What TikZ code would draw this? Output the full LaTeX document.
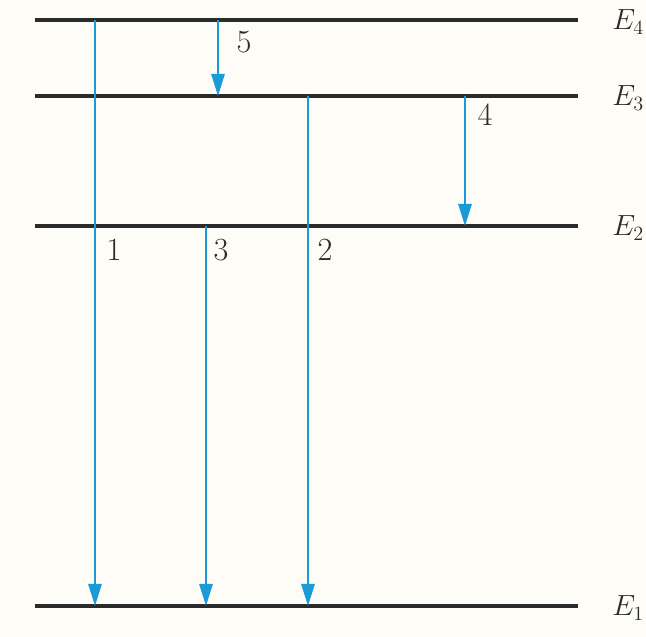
\documentclass[tikz,border=0pt]{standalone}
\usepackage{tikz}
\usetikzlibrary{positioning,arrows.meta}
\definecolor{trblue}{HTML}{1A9AD6}
\definecolor{paper}{HTML}{FDFCF7}
\definecolor{ink}{HTML}{2B2B2B}

\begin{document}
\begin{tikzpicture}[x=0.025cm, y=-0.025cm,
      level/.style={line width=2.4pt, draw=ink},
      trans/.style={-{Triangle[length=0.55cm,width=0.33cm]}, line width=1.5pt, color=trblue},
      elabel/.style={anchor=west, inner sep=0pt, font=\fontsize{22}{26}\selectfont, text=ink},
      num/.style={inner sep=0pt, font=\fontsize{23}{27}\selectfont, text=ink}
    ]
      \fill[paper] (0,0) rectangle (646,637);
      % energy levels
      \coordinate (e4l) at (35,20);  \coordinate (e4r) at (578,20);
      \coordinate (e3l) at (35,96);  \coordinate (e3r) at (578,96);
      \coordinate (e2l) at (35,226); \coordinate (e2r) at (578,226);
      \coordinate (e1l) at (35,606); \coordinate (e1r) at (578,606);
      \draw[level] (e4l)--(e4r); \draw[level] (e3l)--(e3r);
      \draw[level] (e2l)--(e2r); \draw[level] (e1l)--(e1r);
      \node[elabel] (E4) at (612,22)  {$E_4$};
      \node[elabel] (E3) at (612,98)  {$E_3$};
      \node[elabel] (E2) at (612,228) {$E_2$};
      \node[elabel] (E1) at (612,608) {$E_1$};
      % transitions
      \coordinate (x1) at (95,0);  \coordinate (x3) at (206,0);
      \coordinate (x5) at (218,0); \coordinate (x2) at (308,0);
      \coordinate (x4) at (465,0);
      \draw[trans] (x1 |- e4l)--(x1 |- e1l);
      \draw[trans] (x5 |- e4l)--(x5 |- e3l);
      \draw[trans] (x2 |- e3l)--(x2 |- e1l);
      \draw[trans] (x4 |- e3l)--(x4 |- e2l);
      \draw[trans] (x3 |- e2l)--(x3 |- e1l);
      \node[num] (n1) at (114,250) {1};
      \node[num] (n3) at (221,250) {3};
      \node[num] (n2) at (325,250) {2};
      \node[num] (n4) at (485,115) {4};
      \node[num] (n5) at (244,42)  {5};
    \end{tikzpicture}
\end{document}
